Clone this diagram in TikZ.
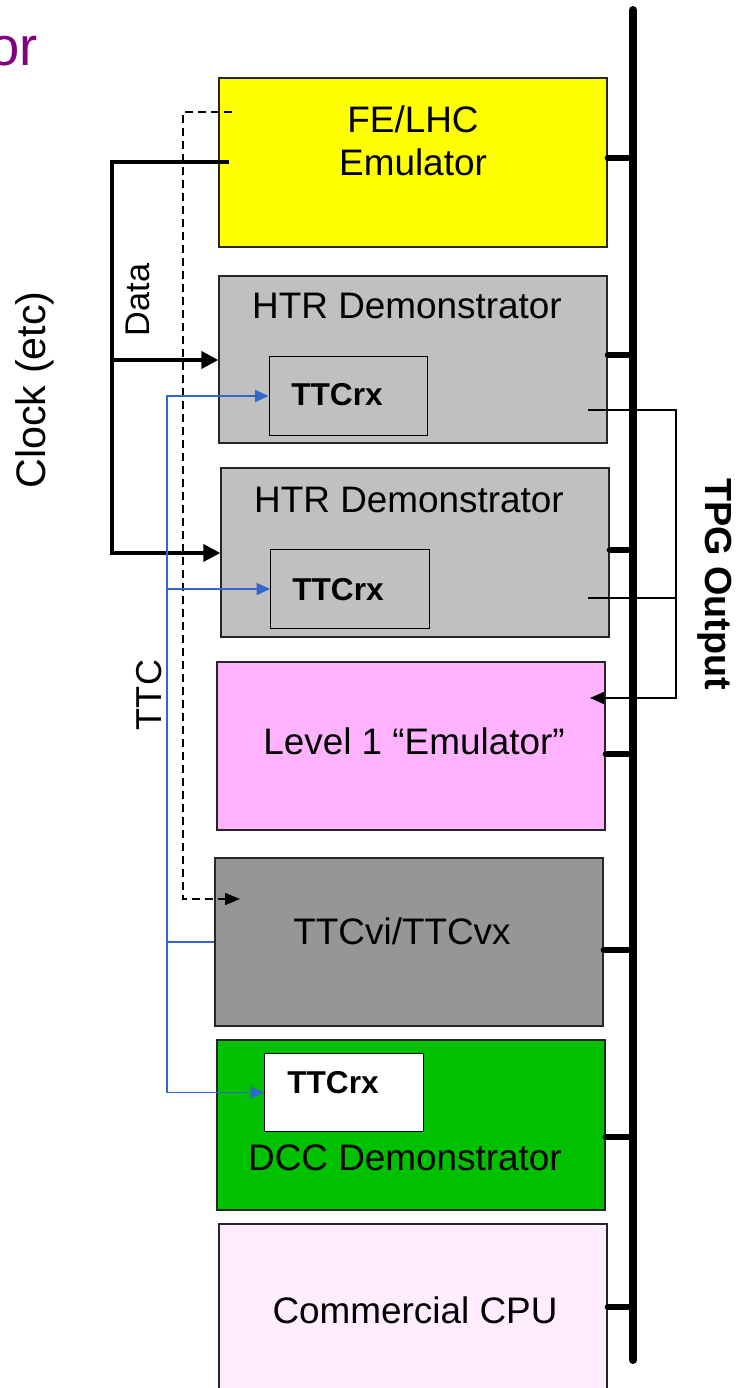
\documentclass[tikz,border=0pt]{standalone}
\usepackage{fontspec}
\setmainfont{Liberation Sans}
\usepackage{xcolor}
\usepackage{tikz}
\usetikzlibrary{calc, arrows.meta}

\definecolor{feyellow}{RGB}{255,255,0}
\definecolor{htrgray}{RGB}{192,192,192}
\definecolor{lvlpink}{RGB}{255,179,255}
\definecolor{vigray}{RGB}{150,150,150}
\definecolor{dccgreen}{RGB}{0,192,0}
\definecolor{cpupink}{RGB}{255,236,255}
\definecolor{ttcblue}{RGB}{51,102,204}
\definecolor{titlepurple}{RGB}{128,0,128}

\tikzset{
  crate/.style={draw=black!85, line width=0.8pt, inner sep=0pt, minimum width=7.76cm},
  rxbox/.style={draw=black, line width=0.8pt, inner sep=0pt, minimum width=3.17cm, minimum height=1.57cm},
  lbl/.style={inner sep=0pt, font=\fontsize{21}{24.5}\selectfont, align=center},
  rxlbl/.style={inner sep=0pt, font=\fontsize{18}{21}\selectfont\bfseries},
  bus/.style={line width=4.5pt, line cap=round},
  stub/.style={line width=3.4pt, line cap=round},
  clock/.style={line width=2.3pt, line join=miter},
  ttc/.style={draw=ttcblue, line width=1.1pt},
  tpg/.style={line width=0.85pt},
  ctrl/.style={line width=0.75pt, dash pattern=on 0.16cm off 0.1cm}
}

\begin{document}
\begin{tikzpicture}[x=0.02cm, y=-0.02cm]

\useasboundingbox (0,0) rectangle (745,1388);

% =====================
% Title fragment (cut at the left border)
% =====================
\node[anchor=base east, inner sep=0pt, text=titlepurple, font=\fontsize{31}{36}\selectfont] (title) at (38,66) {or};

% =====================
% The crates (top to bottom)
% =====================
\node[crate, fill=feyellow, minimum height=3.38cm] (fe) at (413,162.5) {};
\node[crate, fill=htrgray, minimum height=3.34cm] (htrA) at (413,359.5) {};
\node[crate, fill=htrgray, minimum height=3.38cm] (htrB) at (415,552.5) {};
\node[crate, fill=lvlpink, minimum height=3.36cm] (lvl) at (411,746) {};
\node[crate, fill=vigray, minimum height=3.36cm] (ttcvi) at (409,942) {};
\node[crate, fill=dccgreen, minimum height=3.40cm] (dcc) at (411,1125) {};
\node[crate, fill=cpupink, minimum height=3.52cm] (cpu) at (413,1312) {};

% TTCrx receivers
\node[rxbox, fill=htrgray] (rxA) at (348.5,396) {};
\node[rxbox, fill=htrgray] (rxB) at (350,589) {};
\node[rxbox, fill=white] (rxC) at (344,1092.5) {};

% =====================
% Crate labels
% =====================
\node[lbl] (feTxt) at (413,141) {FE/LHC\\Emulator};
\node[lbl] (htrAtxt) at (407,306) {HTR Demonstrator};
\node[lbl] (htrBtxt) at (409,500) {HTR Demonstrator};
\node[lbl] (lvlTxt) at (414,741) {Level 1 “Emulator”};
\node[lbl] (ttcviTxt) at (402,931) {TTCvi/TTCvx};
\node[lbl] (dccTxt) at (405,1158) {DCC Demonstrator};
\node[lbl] (cpuTxt) at (415,1310) {Commercial CPU};

\node[rxlbl] (rxAtxt) at (337,395) {TTCrx};
\node[rxlbl] (rxBtxt) at (338,590) {TTCrx};
\node[rxlbl] (rxCtxt) at (333,1083) {TTCrx};

% =====================
% VME bus and the stubs of the crates
% =====================
\coordinate (busTop) at (633,10);
\coordinate (busBot) at (633,1360);
\draw[bus] (busTop) -- (busBot);

\coordinate (feS) at (633,158);
\coordinate (htrAS) at (633,355);
\coordinate (htrBS) at (633,550);
\coordinate (lvlS) at (633,754);
\coordinate (ttcviS) at (633,950);
\coordinate (dccS) at (633,1137);
\coordinate (cpuS) at (633,1307);
\foreach \c in {fe, htrA, htrB, lvl, ttcvi, dcc, cpu}
  \draw[stub] (\c.east |- \c S) -- (\c S);

% =====================
% Clock / data from the emulator
% =====================
\coordinate (clkA) at (229,162);
\coordinate (clkL) at (112,162);
\coordinate (clkB) at (112,360);
\coordinate (clkC) at (112,553);
\draw[clock, -{Triangle[length=0.34cm, width=0.34cm]}] (clkA) -- (clkL) -- (clkB) -- (htrA.west |- clkB);
\draw[clock, line width=2pt, -{Triangle[length=0.34cm, width=0.34cm]}] (clkB) -- (clkC) -- (htrB.west |- clkC);

\node[lbl, rotate=90, font=\fontsize{19.5}{23}\selectfont] (dataTxt) at (138,300) {Data};
\node[lbl, rotate=90, font=\fontsize{23.5}{27}\selectfont] (clockTxt) at (35,390) {Clock (etc)};

% dashed control line to the TTCvi
\coordinate (dsA) at (232,112);
\coordinate (dsL) at (183,112);
\coordinate (dsB) at (183,899);
\coordinate (dsEnd) at (240,899);
\draw[ctrl, -{Triangle[length=0.3cm, width=0.24cm]}] (dsA) -- (dsL) -- (dsB) -- (dsEnd);

% =====================
% TTC distribution (blue)
% =====================
\coordinate (ttcTop) at (167,396);
\draw[ttc, -{Triangle[length=0.27cm, width=0.24cm]}] (ttcvi.west) -- (ttcTop |- ttcvi.west) -- (ttcTop) -- (rxA.west);
\draw[ttc, -{Triangle[length=0.27cm, width=0.24cm]}] (ttcTop |- rxB.west) -- (rxB.west);
\draw[ttc, -{Triangle[length=0.27cm, width=0.24cm]}] (ttcTop |- ttcvi.west) -- (ttcTop |- rxC.west) -- (rxC.west);
\node[lbl, rotate=90, font=\fontsize{20.5}{24}\selectfont] (ttcTxt) at (149,695) {TTC};

% =====================
% TPG output to the level 1 emulator
% =====================
\coordinate (tpgA) at (588,410);
\coordinate (tpgB) at (588,598);
\coordinate (tpgR) at (676,410);
\coordinate (tpgEnd) at (590,698);
\draw[tpg, -{Triangle[length=0.28cm, width=0.24cm]}] (tpgA) -- (tpgR) -- (tpgR |- tpgEnd) -- (tpgEnd);
\draw[tpg] (tpgB) -- (tpgR |- tpgB);
\node[lbl, rotate=-90, font=\fontsize{21.5}{25}\selectfont\bfseries] (tpgTxt) at (715,584) {TPG Output};

\end{tikzpicture}
\end{document}
